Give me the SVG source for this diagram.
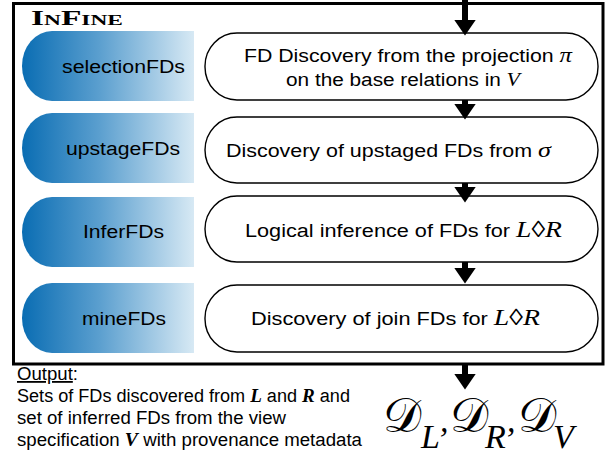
<svg xmlns="http://www.w3.org/2000/svg" width="610" height="460" viewBox="0 0 610 460">
<style>
.frame{fill:none;stroke:#000;stroke-width:3}
.tag{fill:url(#blue)}
.step{fill:#fff;stroke:#000;stroke-width:1.4}
.lbl{font-family:"Liberation Sans",Arial,sans-serif;font-size:18px;fill:#000}
.t{font-family:"Liberation Sans",Arial,sans-serif;font-size:18px;fill:#000}
.m{font-family:"Liberation Serif","Times New Roman",serif;font-style:italic}
.bi{font-family:"Liberation Serif","Times New Roman",serif;font-style:italic;font-weight:bold}
.title{font-family:"Liberation Serif","Times New Roman",serif;font-weight:bold;font-variant:small-caps;font-size:20px;fill:#000}
.conn{stroke:#000;stroke-width:6;fill:none}
.res{fill:#000}
.cal{font-family:"DejaVu Serif","DejaVu Sans",serif;font-size:48px;font-style:normal}
.sub{font-family:"Liberation Serif","Times New Roman",serif;font-style:italic;font-size:34px}
</style>
<defs>
<linearGradient id="blue" x1="0" y1="0" x2="1" y2="0">
<stop offset="0" stop-color="#0a6db3"/>
<stop offset="0.45" stop-color="#5b9fcf"/>
<stop offset="1" stop-color="#d7e9f4"/>
</linearGradient>
<marker id="ah" markerUnits="userSpaceOnUse" viewBox="0 0 16 22" markerWidth="16" markerHeight="22" refX="0.5" refY="11" orient="auto">
<path d="M0,0 L16,11 L0,22 Z" fill="#000"/>
</marker>
</defs>

<rect class="frame" x="13.5" y="3.5" width="589.5" height="360.5"/>
<text class="title" x="31" y="25" textLength="92" lengthAdjust="spacingAndGlyphs">InFine</text>

<g id="selectionFDs">
<path class="tag" d="M194,31 H52 A30,35 0 0 0 52,101 H194 Z"/>
<text class="lbl" x="62" y="73" textLength="123" lengthAdjust="spacingAndGlyphs">selectionFDs</text>
</g>
<g id="upstageFDs">
<path class="tag" d="M194,113 H52 A30,35 0 0 0 52,183 H194 Z"/>
<text class="lbl" x="66" y="155" textLength="114" lengthAdjust="spacingAndGlyphs">upstageFDs</text>
</g>
<g id="InferFDs">
<path class="tag" d="M194,197 H52 A30,35 0 0 0 52,267 H194 Z"/>
<text class="lbl" x="83" y="238" textLength="81" lengthAdjust="spacingAndGlyphs">InferFDs</text>
</g>
<g id="mineFDs">
<path class="tag" d="M194,283 H52 A30,35 0 0 0 52,353 H194 Z"/>
<text class="lbl" x="82" y="325" textLength="84" lengthAdjust="spacingAndGlyphs">mineFDs</text>
</g>

<g id="step-projection">
<rect class="step" x="205" y="33" width="393" height="67" rx="32" ry="33"/>
<text class="t" x="244" y="62" textLength="328" lengthAdjust="spacingAndGlyphs">FD Discovery from the projection <tspan class="m" font-size="21">π</tspan></text>
<text class="t" x="286" y="86" textLength="234" lengthAdjust="spacingAndGlyphs">on the base relations in <tspan class="m" font-size="19">V</tspan></text>
</g>
<g id="step-upstage">
<rect class="step" x="205" y="117" width="393" height="66" rx="32" ry="33"/>
<text class="t" x="226" y="157" textLength="325" lengthAdjust="spacingAndGlyphs">Discovery of upstaged FDs from <tspan class="m" font-size="22">σ</tspan></text>
</g>
<g id="step-infer">
<rect class="step" x="205" y="196" width="393" height="66" rx="32" ry="33"/>
<text class="t" x="245" y="237" textLength="317" lengthAdjust="spacingAndGlyphs">Logical inference of FDs for <tspan class="m" font-size="23">L◊R</tspan></text>
</g>
<g id="step-join">
<rect class="step" x="205" y="285" width="393" height="67" rx="32" ry="33"/>
<text class="t" x="251" y="325" textLength="289" lengthAdjust="spacingAndGlyphs">Discovery of join FDs for <tspan class="m" font-size="23">L◊R</tspan></text>
</g>

<g id="connectors">
<line class="conn" x1="465" y1="0" x2="465" y2="20" marker-end="url(#ah)"/>
<line class="conn" x1="465" y1="100" x2="465" y2="104" marker-end="url(#ah)"/>
<line class="conn" x1="465" y1="183" x2="465" y2="187" marker-end="url(#ah)"/>
<line class="conn" x1="465" y1="262" x2="465" y2="268" marker-end="url(#ah)"/>
<line class="conn" x1="465" y1="364" x2="465" y2="374" marker-end="url(#ah)"/>
</g>

<g id="output">
<text class="t" x="17" y="380" textLength="61" lengthAdjust="spacingAndGlyphs"><tspan text-decoration="underline">Output</tspan>:</text>
<text class="t" x="17" y="402" textLength="333" lengthAdjust="spacingAndGlyphs">Sets of FDs discovered from <tspan class="bi" font-size="19">L</tspan> and <tspan class="bi" font-size="19">R</tspan> and</text>
<text class="t" x="17" y="424" textLength="269" lengthAdjust="spacingAndGlyphs">set of inferred FDs from the view</text>
<text class="t" x="17" y="446" textLength="345" lengthAdjust="spacingAndGlyphs">specification <tspan class="bi" font-size="19">V</tspan> with provenance metadata</text>
</g>

<g id="result">
<text class="res"><tspan class="cal" x="383" y="432">𝒟</tspan><tspan class="sub" x="421" y="448">L</tspan><tspan class="sub" x="440" y="432">,</tspan><tspan class="cal" x="450" y="432">𝒟</tspan><tspan class="sub" x="485" y="448">R</tspan><tspan class="sub" x="507" y="432">,</tspan><tspan class="cal" x="518" y="432">𝒟</tspan><tspan class="sub" x="553" y="448">V</tspan></text>
</g>
</svg>
